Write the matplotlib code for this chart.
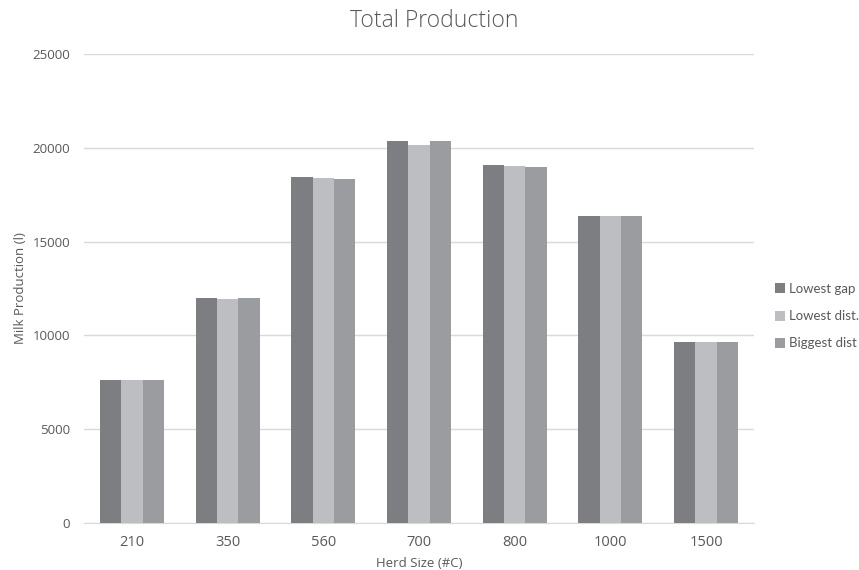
import numpy as np
import matplotlib
matplotlib.use("Agg")
import matplotlib.pyplot as plt

# herd sizes and total milk production per strategy
herd_sizes = ["210", "350", "560", "700", "800", "1000", "1500"]
lowest_gap = [7610, 12010, 18460, 20340, 19060, 16380, 9670]
lowest_dist = [7610, 11950, 18390, 20160, 19050, 16380, 9670]
biggest_dist = [7610, 12010, 18330, 20340, 18970, 16380, 9670]

series_names = ["Lowest gap", "Lowest dist.", "Biggest dist"]
series_colors = ["#7d7e82", "#bdbec2", "#9b9ca0"]

plt.rcParams["font.family"] = ["Open Sans", "DejaVu Sans"]
text_color = "#595959"


def main():
    fig = plt.figure(figsize=(8.59, 5.70), dpi=100)
    ax = fig.add_axes([0.0978, 0.0825, 0.78, 0.8228])

    x = np.arange(len(herd_sizes))
    w = 0.223
    for i, (vals, name, col) in enumerate(zip([lowest_gap, lowest_dist, biggest_dist],
                                               series_names, series_colors)):
        ax.bar(x + (i - 1) * w, vals, width=w, color=col, label=name, zorder=3)

    ax.set_xlim(-0.5, len(herd_sizes) - 0.5)
    ax.set_ylim(0, 25000)
    ax.set_yticks(np.arange(0, 25001, 5000))
    ax.set_xticks(x)
    ax.set_xticklabels(herd_sizes)
    ax.yaxis.grid(True, color="#d9d9d9", linewidth=1)
    ax.set_axisbelow(True)
    for s in ["top", "right", "left"]:
        ax.spines[s].set_visible(False)
    ax.spines["bottom"].set_color("#d9d9d9")
    ax.tick_params(axis="both", length=0, colors=text_color)
    ax.tick_params(axis="y", pad=10, labelsize=9.5)
    ax.tick_params(axis="x", pad=9, labelsize=10.5)

    ax.set_xlabel("Herd Size (#C)", fontsize=9.5, color=text_color, labelpad=5)
    ax.set_ylabel("Milk Production (l)", fontsize=9.5, color=text_color, labelpad=4)
    fig.text(0.506, 0.963, "Total Production", ha="center", va="center",
             fontsize=16.5, color=text_color, fontweight="light")

    ax.legend(loc="upper left", bbox_to_anchor=(1.013, 0.537), frameon=False,
              prop={"family": ["Lato", "DejaVu Sans"], "size": 9.5},
              handlelength=0.8, handleheight=0.8,
              handletextpad=0.3, labelspacing=1.15, labelcolor=text_color)

    fig.savefig("out.png", dpi=100)


if __name__ == "__main__":
    main()
